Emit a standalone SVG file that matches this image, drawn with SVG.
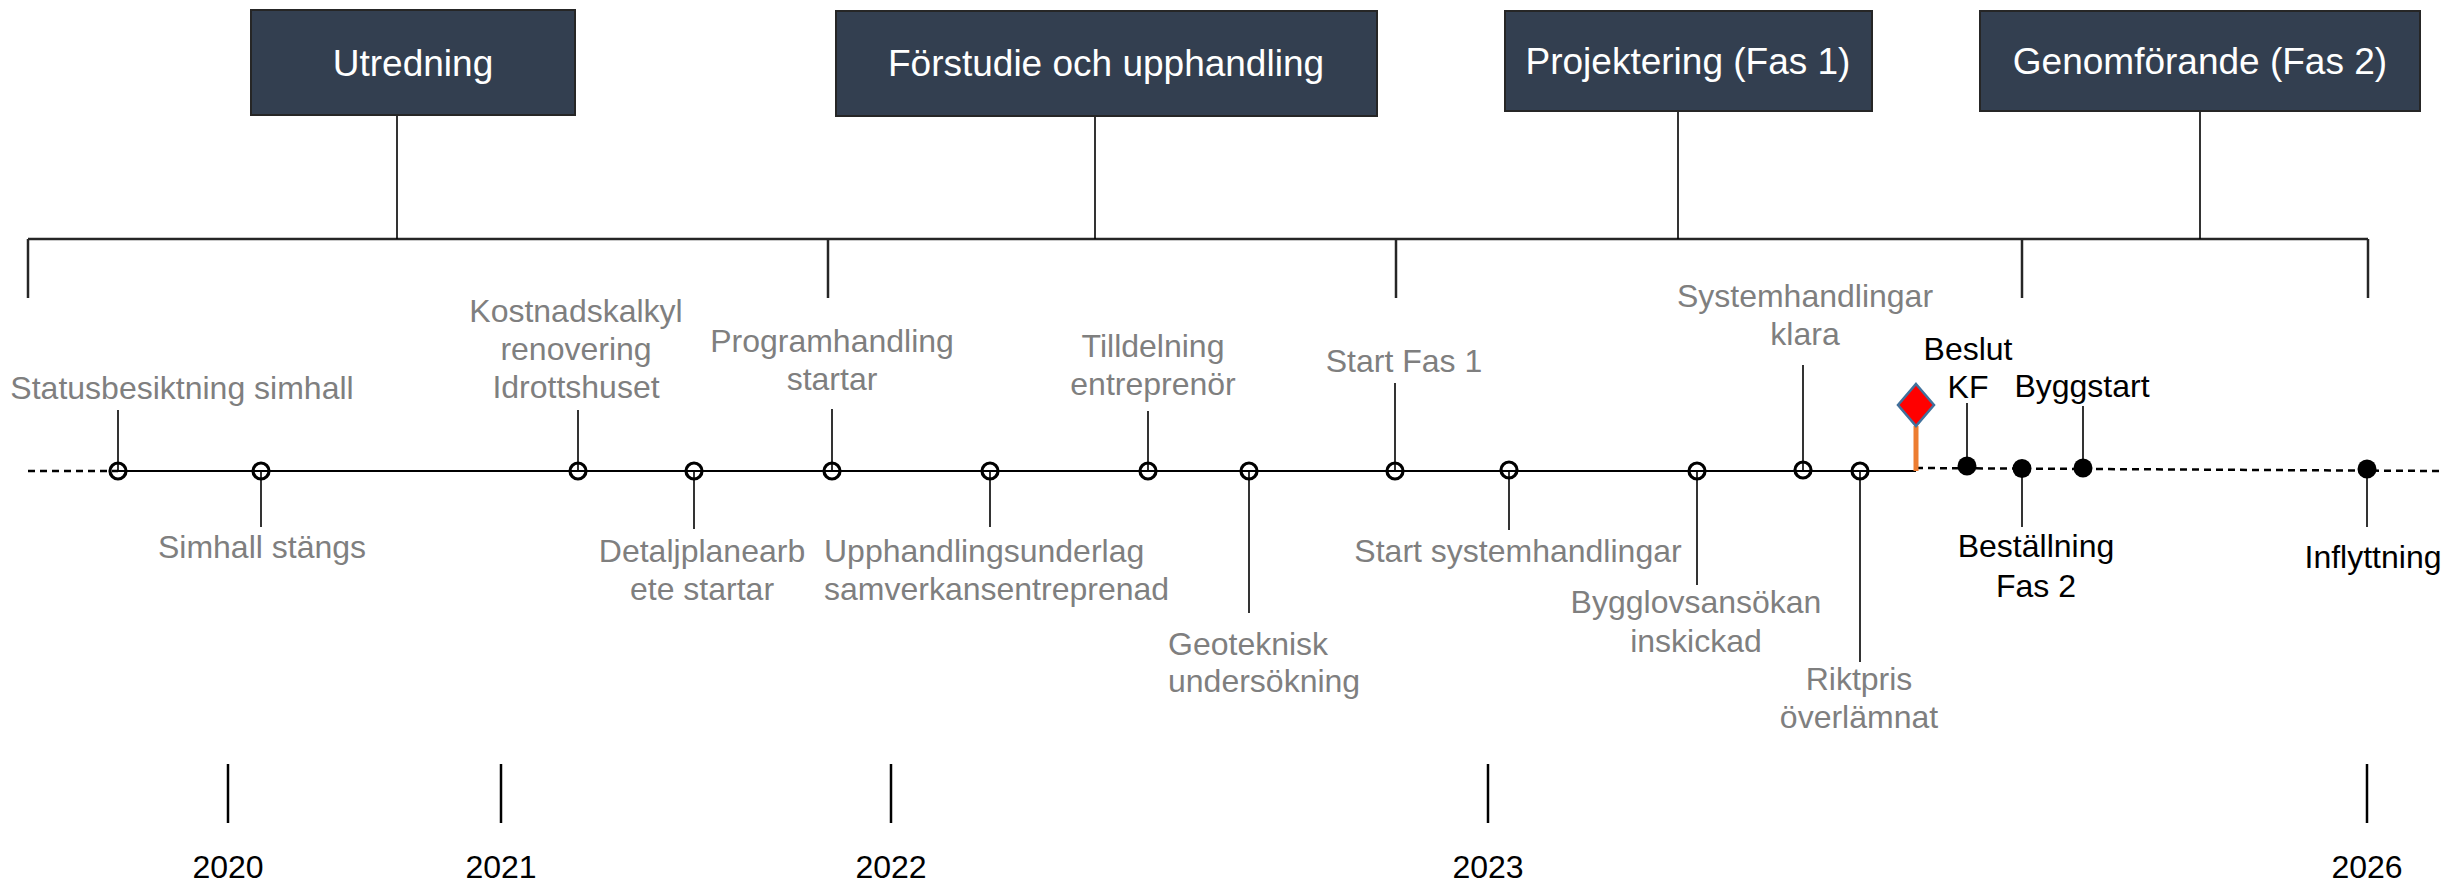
<svg xmlns="http://www.w3.org/2000/svg" width="2448" height="882" viewBox="0 0 2448 882">
<style>
.box{fill:#333F50;stroke:#262626;stroke-width:2}
.bt{font-family:"Liberation Sans",Arial,sans-serif;font-size:37px;fill:#FFFFFF;text-anchor:middle}
.lg{font-family:"Liberation Sans",Arial,sans-serif;font-size:32px;fill:#7F7F7F;text-anchor:middle}
.lb{font-family:"Liberation Sans",Arial,sans-serif;font-size:32px;fill:#000000;text-anchor:middle}
.st{text-anchor:start}
.yr{font-family:"Liberation Sans",Arial,sans-serif;font-size:32px;fill:#000000;text-anchor:middle}
.br{stroke:#262626;stroke-width:2.5;fill:none}
.stem{stroke:#000;stroke-width:1.6;fill:none}
.tick{stroke:#000;stroke-width:2.5}
.om{fill:none;stroke:#000;stroke-width:3.2}
.fm{fill:#000;stroke:none}
</style>
<rect width="2448" height="882" fill="#FFFFFF"/>

<g id="connectors">
  <line class="br" x1="28" y1="239" x2="2368" y2="239"/>
  <line class="br" x1="28" y1="239" x2="28" y2="298"/>
  <line class="br" x1="828" y1="239" x2="828" y2="298"/>
  <line class="br" x1="1396" y1="239" x2="1396" y2="298"/>
  <line class="br" x1="2022" y1="239" x2="2022" y2="298"/>
  <line class="br" x1="2368" y1="239" x2="2368" y2="298"/>
  <line class="stem" x1="397" y1="115" x2="397" y2="239"/>
  <line class="stem" x1="1095" y1="116" x2="1095" y2="239"/>
  <line class="stem" x1="1678" y1="111" x2="1678" y2="239"/>
  <line class="stem" x1="2200" y1="111" x2="2200" y2="239"/>
  <line x1="28" y1="471" x2="118" y2="471" stroke="#000" stroke-width="2.5" stroke-dasharray="7,5"/>
  <line x1="118" y1="471" x2="1916" y2="471" stroke="#000" stroke-width="2"/>
  <line x1="1916" y1="468" x2="2440" y2="471" stroke="#000" stroke-width="2.5" stroke-dasharray="7,5"/>
  <line class="stem" x1="118" y1="410" x2="118" y2="471"/>
  <line class="stem" x1="261" y1="471" x2="261" y2="527"/>
  <line class="stem" x1="578" y1="410" x2="578" y2="471"/>
  <line class="stem" x1="694" y1="471" x2="694" y2="529"/>
  <line class="stem" x1="832" y1="409" x2="832" y2="471"/>
  <line class="stem" x1="990" y1="471" x2="990" y2="527"/>
  <line class="stem" x1="1148" y1="411" x2="1148" y2="471"/>
  <line class="stem" x1="1249" y1="471" x2="1249" y2="613"/>
  <line class="stem" x1="1395" y1="383" x2="1395" y2="471"/>
  <line class="stem" x1="1509" y1="471" x2="1509" y2="530"/>
  <line class="stem" x1="1697" y1="471" x2="1697" y2="585"/>
  <line class="stem" x1="1803" y1="365" x2="1803" y2="471"/>
  <line class="stem" x1="1860" y1="471" x2="1860" y2="662"/>
  <line class="stem" x1="1967" y1="403" x2="1967" y2="466"/>
  <line class="stem" x1="2022" y1="468" x2="2022" y2="527"/>
  <line class="stem" x1="2083" y1="406" x2="2083" y2="468"/>
  <line class="stem" x1="2367" y1="469" x2="2367" y2="527"/>
  <line class="tick" x1="228" y1="764" x2="228" y2="823"/>
  <line class="tick" x1="501" y1="764" x2="501" y2="823"/>
  <line class="tick" x1="891" y1="764" x2="891" y2="823"/>
  <line class="tick" x1="1488" y1="764" x2="1488" y2="823"/>
  <line class="tick" x1="2367" y1="764" x2="2367" y2="823"/>
</g>

<g id="phase-utredning"><rect class="box" x="251" y="10" width="324" height="105"/><text class="bt" x="413" y="76">Utredning</text></g>
<g id="phase-forstudie"><rect class="box" x="836" y="11" width="541" height="105"/><text class="bt" x="1106" y="76">Förstudie och upphandling</text></g>
<g id="phase-projektering"><rect class="box" x="1505" y="11" width="367" height="100"/><text class="bt" x="1688" y="74">Projektering (Fas 1)</text></g>
<g id="phase-genomforande"><rect class="box" x="1980" y="11" width="440" height="100"/><text class="bt" x="2200" y="74">Genomförande (Fas 2)</text></g>

<g id="m-statusbesiktning"><circle class="om" cx="118" cy="471" r="8"/><text class="lg" x="182" y="399">Statusbesiktning simhall</text></g>
<g id="m-simhall"><circle class="om" cx="261" cy="471" r="8"/><text class="lg" x="262" y="558">Simhall stängs</text></g>
<g id="m-kostnadskalkyl"><circle class="om" cx="578" cy="471" r="8"/><text class="lg" x="576" y="322">Kostnadskalkyl</text><text class="lg" x="576" y="360">renovering</text><text class="lg" x="576" y="398">Idrottshuset</text></g>
<g id="m-detaljplan"><circle class="om" cx="694" cy="471" r="8"/><text class="lg" x="702" y="562">Detaljplanearb</text><text class="lg" x="702" y="600">ete startar</text></g>
<g id="m-programhandling"><circle class="om" cx="832" cy="471" r="8"/><text class="lg" x="832" y="352">Programhandling</text><text class="lg" x="832" y="390">startar</text></g>
<g id="m-upphandling"><circle class="om" cx="990" cy="471" r="8"/><text class="lg st" x="824" y="562">Upphandlingsunderlag</text><text class="lg st" x="824" y="600">samverkansentreprenad</text></g>
<g id="m-tilldelning"><circle class="om" cx="1148" cy="471" r="8"/><text class="lg" x="1153" y="357">Tilldelning</text><text class="lg" x="1153" y="395">entreprenör</text></g>
<g id="m-geoteknisk"><circle class="om" cx="1249" cy="471" r="8"/><text class="lg st" x="1168" y="655">Geoteknisk</text><text class="lg st" x="1168" y="692">undersökning</text></g>
<g id="m-startfas1"><circle class="om" cx="1395" cy="471" r="8"/><text class="lg" x="1404" y="372">Start Fas 1</text></g>
<g id="m-startsystem"><circle class="om" cx="1509" cy="470" r="8"/><text class="lg" x="1518" y="562">Start systemhandlingar</text></g>
<g id="m-bygglov"><circle class="om" cx="1697" cy="471" r="8"/><text class="lg" x="1696" y="613">Bygglovsansökan</text><text class="lg" x="1696" y="652">inskickad</text></g>
<g id="m-systemklara"><circle class="om" cx="1803" cy="470" r="8"/><text class="lg" x="1805" y="307">Systemhandlingar</text><text class="lg" x="1805" y="345">klara</text></g>
<g id="m-riktpris"><circle class="om" cx="1860" cy="471" r="8"/><text class="lg" x="1859" y="690">Riktpris</text><text class="lg" x="1859" y="728">överlämnat</text></g>

<g id="today-flag">
  <line x1="1916" y1="426" x2="1916" y2="471" stroke="#ED7D31" stroke-width="5"/>
  <polygon points="1916,384 1934,405 1916,426 1898,405" fill="#FF0000" stroke="#41719C" stroke-width="2.5"/>
</g>

<g id="m-beslut"><circle class="fm" cx="1967" cy="466" r="9.5"/><text class="lb" x="1968" y="360">Beslut</text><text class="lb" x="1968" y="398">KF</text></g>
<g id="m-bestallning"><circle class="fm" cx="2022" cy="468.5" r="9.5"/><text class="lb" x="2036" y="557">Beställning</text><text class="lb" x="2036" y="597">Fas 2</text></g>
<g id="m-byggstart"><circle class="fm" cx="2083" cy="468" r="9.5"/><text class="lb" x="2082" y="397">Byggstart</text></g>
<g id="m-inflyttning"><circle class="fm" cx="2367" cy="469" r="9.5"/><text class="lb" x="2373" y="568">Inflyttning</text></g>

<g id="years">
  <text class="yr" x="228" y="878">2020</text>
  <text class="yr" x="501" y="878">2021</text>
  <text class="yr" x="891" y="878">2022</text>
  <text class="yr" x="1488" y="878">2023</text>
  <text class="yr" x="2367" y="878">2026</text>
</g>
</svg>
